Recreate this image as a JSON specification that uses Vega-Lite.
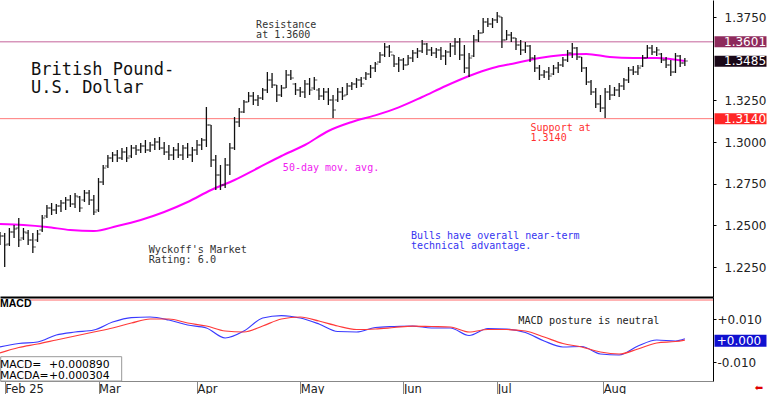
{
  "$schema": "https://vega.github.io/schema/vega-lite/v6.json",
  "padding": 0,
  "spacing": 0,
  "bounds": "flush",
  "background": "white",
  "config": {
    "view": {"stroke": null},
    "axis": {"grid": false, "labelFont": "DejaVu Sans", "labelColor": "#222", "labelFontSize": 12, "labelFlush": false, "labelOverlap": false}
  },
  "resolve": {"scale": {"x": "independent", "y": "independent"}},
  "datasets": {
    "levels": [
      {"name": "resistance", "value": 1.3601},
      {"name": "last", "value": 1.3485},
      {"name": "support", "value": 1.3140}
    ],
    "ma": [
      {"i":0,"ma":1.2508},{"i":5,"ma":1.2502},{"i":10,"ma":1.2490},{"i":15,"ma":1.2472},{"i":20,"ma":1.2466},{"i":25,"ma":1.2496},{"i":30,"ma":1.2532},{"i":35,"ma":1.2580},{"i":40,"ma":1.2640},{"i":45,"ma":1.2712},{"i":50,"ma":1.2772},{"i":55,"ma":1.2844},{"i":60,"ma":1.2916},{"i":65,"ma":1.2982},{"i":70,"ma":1.3066},{"i":75,"ma":1.3120},{"i":80,"ma":1.3160},{"i":85,"ma":1.3208},{"i":90,"ma":1.3270},{"i":95,"ma":1.3336},{"i":100,"ma":1.3396},{"i":105,"ma":1.3444},{"i":110,"ma":1.3474},{"i":115,"ma":1.3504},{"i":120,"ma":1.3522},{"i":125,"ma":1.3528},{"i":130,"ma":1.3510},{"i":135,"ma":1.3504},{"i":140,"ma":1.3504},{"i":146,"ma":1.3486}
    ],
    "macd": [
      {"i":0,"macd":-0.00295,"signal":-0.00577},
      {"i":4,"macd":-0.00131,"signal":-0.00319},
      {"i":8,"macd":-0.00061,"signal":-0.00155},
      {"i":12,"macd":0.00267,"signal":0.00033},
      {"i":16,"macd":0.00408,"signal":0.00220},
      {"i":20,"macd":0.00502,"signal":0.00408},
      {"i":24,"macd":0.00877,"signal":0.00596},
      {"i":28,"macd":0.01088,"signal":0.00830},
      {"i":32,"macd":0.01112,"signal":0.01018},
      {"i":36,"macd":0.00971,"signal":0.01018},
      {"i":40,"macd":0.00736,"signal":0.00830},
      {"i":44,"macd":0.00596,"signal":0.00689},
      {"i":48,"macd":0.00127,"signal":0.00455},
      {"i":52,"macd":0.00455,"signal":0.00408},
      {"i":56,"macd":0.01065,"signal":0.00689},
      {"i":60,"macd":0.01182,"signal":0.01018},
      {"i":64,"macd":0.01065,"signal":0.01112},
      {"i":68,"macd":0.00783,"signal":0.00924},
      {"i":72,"macd":0.00431,"signal":0.00689},
      {"i":76,"macd":0.00408,"signal":0.00525},
      {"i":80,"macd":0.00619,"signal":0.00549},
      {"i":84,"macd":0.00666,"signal":0.00619},
      {"i":88,"macd":0.00689,"signal":0.00689},
      {"i":92,"macd":0.00596,"signal":0.00666},
      {"i":96,"macd":0.00596,"signal":0.00643},
      {"i":100,"macd":0.00244,"signal":0.00408},
      {"i":104,"macd":0.00572,"signal":0.00525},
      {"i":108,"macd":0.00549,"signal":0.00525},
      {"i":112,"macd":0.00385,"signal":0.00455},
      {"i":116,"macd":-0.00014,"signal":0.00174},
      {"i":120,"macd":-0.00295,"signal":-0.00131},
      {"i":124,"macd":-0.00272,"signal":-0.00295},
      {"i":128,"macd":-0.00624,"signal":-0.00530},
      {"i":132,"macd":-0.00671,"signal":-0.00624},
      {"i":136,"macd":-0.00249,"signal":-0.00389},
      {"i":140,"macd":0.00033,"signal":-0.00108},
      {"i":144,"macd":-0.00014,"signal":-0.00038},
      {"i":146,"macd":0.00089,"signal":0.000304}
    ],
    "ohlc": [
      {"i":0,"o":1.2412,"h":1.2460,"l":1.2382,"c":1.2436},
      {"i":1,"o":1.2436,"h":1.2454,"l":1.2250,"c":1.2382},
      {"i":2,"o":1.2388,"h":1.2484,"l":1.2376,"c":1.2460},
      {"i":3,"o":1.2460,"h":1.2502,"l":1.2424,"c":1.2478},
      {"i":4,"o":1.2484,"h":1.2544,"l":1.2370,"c":1.2412},
      {"i":5,"o":1.2424,"h":1.2484,"l":1.2412,"c":1.2460},
      {"i":6,"o":1.2454,"h":1.2472,"l":1.2382,"c":1.2412},
      {"i":7,"o":1.2412,"h":1.2454,"l":1.2334,"c":1.2370},
      {"i":8,"o":1.2412,"h":1.2472,"l":1.2400,"c":1.2448},
      {"i":9,"o":1.2472,"h":1.2562,"l":1.2460,"c":1.2544},
      {"i":10,"o":1.2556,"h":1.2622,"l":1.2544,"c":1.2604},
      {"i":11,"o":1.2604,"h":1.2634,"l":1.2562,"c":1.2592},
      {"i":12,"o":1.2592,"h":1.2628,"l":1.2568,"c":1.2616},
      {"i":13,"o":1.2616,"h":1.2652,"l":1.2580,"c":1.2634},
      {"i":14,"o":1.2634,"h":1.2670,"l":1.2592,"c":1.2652},
      {"i":15,"o":1.2652,"h":1.2682,"l":1.2610,"c":1.2628},
      {"i":16,"o":1.2628,"h":1.2694,"l":1.2604,"c":1.2676},
      {"i":17,"o":1.2670,"h":1.2676,"l":1.2580,"c":1.2604},
      {"i":18,"o":1.2652,"h":1.2712,"l":1.2640,"c":1.2694},
      {"i":19,"o":1.2694,"h":1.2712,"l":1.2622,"c":1.2652},
      {"i":20,"o":1.2652,"h":1.2682,"l":1.2562,"c":1.2580},
      {"i":21,"o":1.2592,"h":1.2784,"l":1.2580,"c":1.2760},
      {"i":22,"o":1.2760,"h":1.2862,"l":1.2742,"c":1.2844},
      {"i":23,"o":1.2856,"h":1.2922,"l":1.2844,"c":1.2904},
      {"i":24,"o":1.2904,"h":1.2940,"l":1.2880,"c":1.2922},
      {"i":25,"o":1.2922,"h":1.2952,"l":1.2880,"c":1.2904},
      {"i":26,"o":1.2904,"h":1.2964,"l":1.2892,"c":1.2940},
      {"i":27,"o":1.2940,"h":1.2970,"l":1.2880,"c":1.2904},
      {"i":28,"o":1.2916,"h":1.2982,"l":1.2904,"c":1.2964},
      {"i":29,"o":1.2964,"h":1.2982,"l":1.2922,"c":1.2952},
      {"i":30,"o":1.2952,"h":1.2994,"l":1.2934,"c":1.2976},
      {"i":31,"o":1.2976,"h":1.3012,"l":1.2934,"c":1.2952},
      {"i":32,"o":1.2952,"h":1.3000,"l":1.2940,"c":1.2982},
      {"i":33,"o":1.2982,"h":1.3024,"l":1.2952,"c":1.3000},
      {"i":34,"o":1.3000,"h":1.3030,"l":1.2952,"c":1.2964},
      {"i":35,"o":1.2964,"h":1.3000,"l":1.2922,"c":1.2940},
      {"i":36,"o":1.2940,"h":1.2982,"l":1.2892,"c":1.2922},
      {"i":37,"o":1.2922,"h":1.2970,"l":1.2892,"c":1.2952},
      {"i":38,"o":1.2952,"h":1.2994,"l":1.2904,"c":1.2922},
      {"i":39,"o":1.2922,"h":1.2982,"l":1.2892,"c":1.2964},
      {"i":40,"o":1.2964,"h":1.2994,"l":1.2904,"c":1.2922},
      {"i":41,"o":1.2922,"h":1.2970,"l":1.2880,"c":1.2952},
      {"i":42,"o":1.2952,"h":1.3012,"l":1.2922,"c":1.2982},
      {"i":43,"o":1.2982,"h":1.3024,"l":1.2952,"c":1.3012},
      {"i":44,"o":1.3012,"h":1.3210,"l":1.2970,"c":1.3102},
      {"i":45,"o":1.3102,"h":1.3102,"l":1.2850,"c":1.2892},
      {"i":46,"o":1.2892,"h":1.2922,"l":1.2712,"c":1.2802},
      {"i":47,"o":1.2802,"h":1.2862,"l":1.2712,"c":1.2742},
      {"i":48,"o":1.2742,"h":1.2904,"l":1.2724,"c":1.2862},
      {"i":49,"o":1.2862,"h":1.2994,"l":1.2802,"c":1.2964},
      {"i":50,"o":1.2964,"h":1.3150,"l":1.2952,"c":1.3120},
      {"i":51,"o":1.3120,"h":1.3204,"l":1.3090,"c":1.3180},
      {"i":52,"o":1.3180,"h":1.3252,"l":1.3174,"c":1.3240},
      {"i":53,"o":1.3240,"h":1.3300,"l":1.3240,"c":1.3276},
      {"i":54,"o":1.3276,"h":1.3300,"l":1.3222,"c":1.3252},
      {"i":55,"o":1.3252,"h":1.3282,"l":1.3216,"c":1.3264},
      {"i":56,"o":1.3264,"h":1.3324,"l":1.3252,"c":1.3312},
      {"i":57,"o":1.3312,"h":1.3420,"l":1.3294,"c":1.3372},
      {"i":58,"o":1.3372,"h":1.3414,"l":1.3324,"c":1.3342},
      {"i":59,"o":1.3342,"h":1.3342,"l":1.3240,"c":1.3282},
      {"i":60,"o":1.3282,"h":1.3342,"l":1.3270,"c":1.3324},
      {"i":61,"o":1.3324,"h":1.3432,"l":1.3324,"c":1.3402},
      {"i":62,"o":1.3402,"h":1.3432,"l":1.3372,"c":1.3384},
      {"i":63,"o":1.3348,"h":1.3354,"l":1.3282,"c":1.3312},
      {"i":64,"o":1.3312,"h":1.3330,"l":1.3270,"c":1.3300},
      {"i":65,"o":1.3300,"h":1.3372,"l":1.3264,"c":1.3348},
      {"i":66,"o":1.3348,"h":1.3384,"l":1.3282,"c":1.3312},
      {"i":67,"o":1.3324,"h":1.3390,"l":1.3312,"c":1.3372},
      {"i":68,"o":1.3312,"h":1.3324,"l":1.3252,"c":1.3276},
      {"i":69,"o":1.3276,"h":1.3324,"l":1.3252,"c":1.3300},
      {"i":70,"o":1.3300,"h":1.3324,"l":1.3222,"c":1.3252},
      {"i":71,"o":1.3252,"h":1.3282,"l":1.3144,"c":1.3192},
      {"i":72,"o":1.3252,"h":1.3324,"l":1.3240,"c":1.3300},
      {"i":73,"o":1.3300,"h":1.3330,"l":1.3252,"c":1.3276},
      {"i":74,"o":1.3282,"h":1.3354,"l":1.3282,"c":1.3336},
      {"i":75,"o":1.3336,"h":1.3360,"l":1.3312,"c":1.3348},
      {"i":76,"o":1.3348,"h":1.3384,"l":1.3324,"c":1.3372},
      {"i":77,"o":1.3372,"h":1.3390,"l":1.3330,"c":1.3348},
      {"i":78,"o":1.3384,"h":1.3420,"l":1.3372,"c":1.3408},
      {"i":79,"o":1.3408,"h":1.3462,"l":1.3384,"c":1.3444},
      {"i":80,"o":1.3444,"h":1.3480,"l":1.3420,"c":1.3468},
      {"i":81,"o":1.3480,"h":1.3540,"l":1.3474,"c":1.3522},
      {"i":82,"o":1.3522,"h":1.3594,"l":1.3510,"c":1.3570},
      {"i":83,"o":1.3570,"h":1.3582,"l":1.3510,"c":1.3540},
      {"i":84,"o":1.3522,"h":1.3522,"l":1.3450,"c":1.3468},
      {"i":85,"o":1.3468,"h":1.3510,"l":1.3420,"c":1.3492},
      {"i":86,"o":1.3492,"h":1.3504,"l":1.3432,"c":1.3462},
      {"i":87,"o":1.3462,"h":1.3522,"l":1.3462,"c":1.3504},
      {"i":88,"o":1.3504,"h":1.3552,"l":1.3480,"c":1.3534},
      {"i":89,"o":1.3534,"h":1.3564,"l":1.3504,"c":1.3546},
      {"i":90,"o":1.3546,"h":1.3612,"l":1.3534,"c":1.3588},
      {"i":91,"o":1.3588,"h":1.3594,"l":1.3522,"c":1.3552},
      {"i":92,"o":1.3552,"h":1.3570,"l":1.3516,"c":1.3534},
      {"i":93,"o":1.3534,"h":1.3564,"l":1.3504,"c":1.3552},
      {"i":94,"o":1.3552,"h":1.3570,"l":1.3492,"c":1.3516},
      {"i":95,"o":1.3516,"h":1.3552,"l":1.3462,"c":1.3540},
      {"i":96,"o":1.3540,"h":1.3594,"l":1.3510,"c":1.3576},
      {"i":97,"o":1.3576,"h":1.3624,"l":1.3522,"c":1.3600},
      {"i":98,"o":1.3600,"h":1.3624,"l":1.3492,"c":1.3522},
      {"i":99,"o":1.3522,"h":1.3582,"l":1.3414,"c":1.3444},
      {"i":100,"o":1.3444,"h":1.3534,"l":1.3390,"c":1.3504},
      {"i":101,"o":1.3516,"h":1.3642,"l":1.3510,"c":1.3612},
      {"i":102,"o":1.3612,"h":1.3672,"l":1.3600,"c":1.3654},
      {"i":103,"o":1.3654,"h":1.3744,"l":1.3654,"c":1.3720},
      {"i":104,"o":1.3720,"h":1.3744,"l":1.3690,"c":1.3708},
      {"i":105,"o":1.3708,"h":1.3744,"l":1.3684,"c":1.3732},
      {"i":106,"o":1.3732,"h":1.3780,"l":1.3714,"c":1.3756},
      {"i":107,"o":1.3750,"h":1.3750,"l":1.3564,"c":1.3612},
      {"i":108,"o":1.3612,"h":1.3672,"l":1.3612,"c":1.3642},
      {"i":109,"o":1.3642,"h":1.3660,"l":1.3600,"c":1.3624},
      {"i":110,"o":1.3624,"h":1.3624,"l":1.3552,"c":1.3582},
      {"i":111,"o":1.3582,"h":1.3612,"l":1.3522,"c":1.3552},
      {"i":112,"o":1.3552,"h":1.3600,"l":1.3534,"c":1.3576},
      {"i":113,"o":1.3576,"h":1.3582,"l":1.3480,"c":1.3504},
      {"i":114,"o":1.3504,"h":1.3522,"l":1.3420,"c":1.3444},
      {"i":115,"o":1.3444,"h":1.3462,"l":1.3372,"c":1.3402},
      {"i":116,"o":1.3402,"h":1.3432,"l":1.3384,"c":1.3420},
      {"i":117,"o":1.3420,"h":1.3450,"l":1.3372,"c":1.3396},
      {"i":118,"o":1.3408,"h":1.3462,"l":1.3402,"c":1.3444},
      {"i":119,"o":1.3444,"h":1.3480,"l":1.3414,"c":1.3462},
      {"i":120,"o":1.3462,"h":1.3510,"l":1.3450,"c":1.3492},
      {"i":121,"o":1.3492,"h":1.3552,"l":1.3480,"c":1.3534},
      {"i":122,"o":1.3534,"h":1.3594,"l":1.3504,"c":1.3564},
      {"i":123,"o":1.3564,"h":1.3570,"l":1.3492,"c":1.3510},
      {"i":124,"o":1.3510,"h":1.3510,"l":1.3420,"c":1.3444},
      {"i":125,"o":1.3444,"h":1.3450,"l":1.3342,"c":1.3360},
      {"i":126,"o":1.3360,"h":1.3372,"l":1.3282,"c":1.3300},
      {"i":127,"o":1.3300,"h":1.3324,"l":1.3204,"c":1.3228},
      {"i":128,"o":1.3228,"h":1.3282,"l":1.3180,"c":1.3204},
      {"i":129,"o":1.3204,"h":1.3324,"l":1.3144,"c":1.3300},
      {"i":130,"o":1.3300,"h":1.3342,"l":1.3252,"c":1.3282},
      {"i":131,"o":1.3282,"h":1.3330,"l":1.3276,"c":1.3312},
      {"i":132,"o":1.3312,"h":1.3354,"l":1.3270,"c":1.3336},
      {"i":133,"o":1.3336,"h":1.3384,"l":1.3312,"c":1.3372},
      {"i":134,"o":1.3372,"h":1.3450,"l":1.3354,"c":1.3432},
      {"i":135,"o":1.3432,"h":1.3456,"l":1.3402,"c":1.3420},
      {"i":136,"o":1.3420,"h":1.3462,"l":1.3402,"c":1.3444},
      {"i":137,"o":1.3456,"h":1.3522,"l":1.3450,"c":1.3504},
      {"i":138,"o":1.3504,"h":1.3582,"l":1.3504,"c":1.3564},
      {"i":139,"o":1.3564,"h":1.3582,"l":1.3522,"c":1.3540},
      {"i":140,"o":1.3540,"h":1.3570,"l":1.3516,"c":1.3552},
      {"i":141,"o":1.3528,"h":1.3534,"l":1.3474,"c":1.3492},
      {"i":142,"o":1.3492,"h":1.3510,"l":1.3444,"c":1.3462},
      {"i":143,"o":1.3462,"h":1.3492,"l":1.3396,"c":1.3420},
      {"i":144,"o":1.3420,"h":1.3534,"l":1.3414,"c":1.3516},
      {"i":145,"o":1.3516,"h":1.3522,"l":1.3450,"c":1.3474},
      {"i":146,"o":1.3474,"h":1.3504,"l":1.3456,"c":1.3486}
    ]
  },
  "vconcat": [
    {
      "width": 713,
      "height": 297,
      "layer": [
        {
          "data": {"name": "levels"},
          "transform": [{"filter": "datum.name !== 'last'"}],
          "mark": {"type": "rule", "strokeWidth": 1, "clip": true},
          "encoding": {
            "y": {"field": "value", "type": "quantitative", "title": null,
                  "scale": {"domain": [1.207, 1.3852], "nice": false, "zero": false},
                  "axis": {"orient": "right", "values": [1.225, 1.25, 1.275, 1.3, 1.325, 1.375], "format": ".4f", "tickSize": 3, "labelPadding": 8, "domainColor": "#000", "tickColor": "#000", "title": null}},
            "stroke": {"field": "name", "type": "nominal", "legend": null,
                       "scale": {"domain": ["resistance", "support"], "range": ["#C4639A", "#FF7878"]}}
          }
        },
        {
          "data": {"name": "ma"},
          "mark": {"type": "line", "color": "#FF00FF", "strokeWidth": 2, "interpolate": "monotone", "clip": true},
          "encoding": {
            "x": {"field": "i", "type": "quantitative", "title": null,
                  "scale": {"domain": [0, 152], "nice": false, "zero": false},
                  "axis": {"orient": "bottom", "labels": false, "ticks": false, "title": null, "domainColor": "#000", "domainWidth": 2}},
            "y": {"field": "ma", "type": "quantitative", "title": null, "scale": {"domain": [1.207, 1.3852], "nice": false, "zero": false}}
          }
        },
        {
          "data": {"name": "ohlc"},
          "mark": {"type": "rule", "color": "#111", "strokeWidth": 1.3, "clip": true},
          "encoding": {
            "x": {"field": "i", "type": "quantitative", "title": null, "scale": {"domain": [0, 152], "nice": false, "zero": false}},
            "y": {"field": "l", "type": "quantitative", "title": null, "scale": {"domain": [1.207, 1.3852], "nice": false, "zero": false}},
            "y2": {"field": "h"}
          }
        },
        {
          "data": {"name": "ohlc"},
          "transform": [{"filter": "datum.i > 0"}],
          "mark": {"type": "tick", "orient": "horizontal", "size": 3, "thickness": 1, "xOffset": -1.5, "color": "#111", "clip": true},
          "encoding": {
            "x": {"field": "i", "type": "quantitative", "title": null, "scale": {"domain": [0, 152], "nice": false, "zero": false}},
            "y": {"field": "o", "type": "quantitative", "title": null, "scale": {"domain": [1.207, 1.3852], "nice": false, "zero": false}}
          }
        },
        {
          "data": {"name": "ohlc"},
          "mark": {"type": "tick", "orient": "horizontal", "size": 3, "thickness": 1, "xOffset": 1.5, "color": "#111", "clip": true},
          "encoding": {
            "x": {"field": "i", "type": "quantitative", "title": null, "scale": {"domain": [0, 152], "nice": false, "zero": false}},
            "y": {"field": "c", "type": "quantitative", "title": null, "scale": {"domain": [1.207, 1.3852], "nice": false, "zero": false}}
          }
        },
        {
          "data": {"name": "levels"},
          "mark": {"type": "point", "shape": "M-1,-0.21H1V0.21H-1Z", "size": 2704, "filled": true, "opacity": 1, "strokeWidth": 0},
          "encoding": {
            "x": {"datum": 157.86, "type": "quantitative", "title": null, "scale": {"domain": [0, 152], "nice": false, "zero": false}},
            "y": {"field": "value", "type": "quantitative", "title": null, "scale": {"domain": [1.207, 1.3852], "nice": false, "zero": false}},
            "fill": {"field": "name", "type": "nominal", "legend": null,
                     "scale": {"domain": ["resistance", "last", "support"], "range": ["#8E2A5C", "#1A0818", "#FF2626"]}}
          }
        },
        {
          "data": {"name": "levels"},
          "mark": {"type": "text", "align": "left", "baseline": "middle", "color": "white", "font": "DejaVu Sans", "fontSize": 12},
          "encoding": {
            "x": {"datum": 154.35, "type": "quantitative", "title": null, "scale": {"domain": [0, 152], "nice": false, "zero": false}},
            "y": {"field": "value", "type": "quantitative", "title": null, "scale": {"domain": [1.207, 1.3852], "nice": false, "zero": false}},
            "text": {"field": "value", "type": "quantitative", "format": ".4f"}
          }
        },
        {
          "data": {"values": [{}]},
          "mark": {"type": "text", "text": ["Resistance", "at 1.3600"], "align": "left", "baseline": "top", "lineHeight": 10, "font": "DejaVu Sans Mono", "fontSize": 10, "color": "#333"},
          "encoding": {
            "x": {"datum": 54.6, "type": "quantitative", "title": null, "scale": {"domain": [0, 152], "nice": false, "zero": false}},
            "y": {"datum": 1.3730, "type": "quantitative", "title": null, "scale": {"domain": [1.207, 1.3852], "nice": false, "zero": false}}
          }
        },
        {
          "data": {"values": [{}]},
          "mark": {"type": "text", "text": ["British Pound-", "U.S. Dollar"], "align": "left", "baseline": "top", "lineHeight": 17.8, "font": "DejaVu Sans Mono", "fontSize": 17, "color": "#111"},
          "encoding": {
            "x": {"datum": 6.6, "type": "quantitative", "title": null, "scale": {"domain": [0, 152], "nice": false, "zero": false}},
            "y": {"datum": 1.3478, "type": "quantitative", "title": null, "scale": {"domain": [1.207, 1.3852], "nice": false, "zero": false}}
          }
        },
        {
          "data": {"values": [{}]},
          "mark": {"type": "text", "text": "50-day mov. avg.", "align": "left", "baseline": "top", "font": "DejaVu Sans Mono", "fontSize": 10, "color": "#F020F0"},
          "encoding": {
            "x": {"datum": 60.3, "type": "quantitative", "title": null, "scale": {"domain": [0, 152], "nice": false, "zero": false}},
            "y": {"datum": 1.2876, "type": "quantitative", "title": null, "scale": {"domain": [1.207, 1.3852], "nice": false, "zero": false}}
          }
        },
        {
          "data": {"values": [{}]},
          "mark": {"type": "text", "text": ["Support at", "1.3140"], "align": "left", "baseline": "top", "lineHeight": 10, "font": "DejaVu Sans Mono", "fontSize": 10, "color": "#FF3030"},
          "encoding": {
            "x": {"datum": 113.1, "type": "quantitative", "title": null, "scale": {"domain": [0, 152], "nice": false, "zero": false}},
            "y": {"datum": 1.3112, "type": "quantitative", "title": null, "scale": {"domain": [1.207, 1.3852], "nice": false, "zero": false}}
          }
        },
        {
          "data": {"values": [{}]},
          "mark": {"type": "text", "text": ["Wyckoff's Market", "Rating: 6.0"], "align": "left", "baseline": "top", "lineHeight": 10.3, "font": "DejaVu Sans Mono", "fontSize": 10.2, "color": "#333"},
          "encoding": {
            "x": {"datum": 31.7, "type": "quantitative", "title": null, "scale": {"domain": [0, 152], "nice": false, "zero": false}},
            "y": {"datum": 1.2381, "type": "quantitative", "title": null, "scale": {"domain": [1.207, 1.3852], "nice": false, "zero": false}}
          }
        },
        {
          "data": {"values": [{}]},
          "mark": {"type": "text", "text": ["Bulls have overall near-term", "technical advantage."], "align": "left", "baseline": "top", "lineHeight": 10, "font": "DejaVu Sans Mono", "fontSize": 10, "color": "#3535F0"},
          "encoding": {
            "x": {"datum": 87.6, "type": "quantitative", "title": null, "scale": {"domain": [0, 152], "nice": false, "zero": false}},
            "y": {"datum": 1.2465, "type": "quantitative", "title": null, "scale": {"domain": [1.207, 1.3852], "nice": false, "zero": false}}
          }
        }
      ]
    },
    {
      "width": 713,
      "height": 84,
      "layer": [
        {
          "data": {"values": [{}]},
          "mark": {"type": "rule", "color": "#FF6A6A", "strokeWidth": 1},
          "encoding": {
            "x": {"datum": 6.3, "type": "quantitative", "title": null, "scale": {"domain": [0, 152], "nice": false, "zero": false}},
            "x2": {"datum": 152},
            "y": {"datum": 0.0191, "type": "quantitative", "title": null, "scale": {"domain": [-0.01892, 0.02052], "nice": false, "zero": false}}
          }
        },
        {
          "data": {"name": "macd"},
          "transform": [{"fold": ["macd", "signal"], "as": ["series", "value"]}],
          "mark": {"type": "line", "strokeWidth": 1.2, "interpolate": "monotone", "clip": true},
          "encoding": {
            "x": {"field": "i", "type": "quantitative", "title": null,
                  "scale": {"domain": [0, 152], "nice": false, "zero": false},
                  "axis": {"orient": "bottom", "title": null, "values": [1, 21, 42, 64, 86, 106, 128.6],
                           "labelExpr": "['Feb 25','Mar','Apr','May','Jun','Jul','Aug'][indexof([1,21,42,64,86,106,128.6], datum.value)]",
                           "tickSize": 13, "tickColor": "#888", "domainColor": "#888", "labelAlign": "left", "labelBaseline": "top", "labelPadding": -11, "labelDx": 2, "labelFontSize": 11.5}},
            "y": {"field": "value", "type": "quantitative", "title": null,
                  "scale": {"domain": [-0.01892, 0.02052], "nice": false, "zero": false},
                  "axis": {"orient": "right", "title": null, "values": [-0.01, 0.01],
                           "labelExpr": "(datum.value > 0 ? '+' : '-') + format(abs(datum.value), '.3f')",
                           "tickSize": 3, "labelPadding": 1, "domainColor": "#000", "tickColor": "#000"}},
            "color": {"field": "series", "type": "nominal", "legend": null,
                      "scale": {"domain": ["macd", "signal"], "range": ["#3A3AFF", "#FF3A3A"]}}
          }
        },
        {
          "data": {"values": [{}]},
          "mark": {"type": "text", "text": "MACD", "align": "left", "baseline": "top", "font": "Liberation Sans", "fontSize": 10.5, "fontWeight": "bold", "color": "#000"},
          "encoding": {
            "x": {"datum": 0, "type": "quantitative", "title": null, "scale": {"domain": [0, 152], "nice": false, "zero": false}},
            "y": {"datum": 0.0195, "type": "quantitative", "title": null, "scale": {"domain": [-0.01892, 0.02052], "nice": false, "zero": false}}
          }
        },
        {
          "data": {"values": [{}]},
          "mark": {"type": "rect", "fill": "white", "stroke": "#999", "strokeWidth": 1},
          "encoding": {
            "x": {"datum": 0.15, "type": "quantitative", "title": null, "scale": {"domain": [0, 152], "nice": false, "zero": false}},
            "x2": {"datum": 25.94},
            "y": {"datum": -0.00751, "type": "quantitative", "title": null, "scale": {"domain": [-0.01892, 0.02052], "nice": false, "zero": false}},
            "y2": {"datum": -0.01892}
          }
        },
        {
          "data": {"values": [{}]},
          "mark": {"type": "text", "text": ["MACD=", "MACDA="], "align": "left", "baseline": "top", "lineHeight": 11.6, "font": "DejaVu Sans", "fontSize": 10.8, "color": "#000"},
          "encoding": {
            "x": {"datum": 0, "type": "quantitative", "title": null, "scale": {"domain": [0, 152], "nice": false, "zero": false}},
            "y": {"datum": -0.00836, "type": "quantitative", "title": null, "scale": {"domain": [-0.01892, 0.02052], "nice": false, "zero": false}}
          }
        },
        {
          "data": {"values": [{}]},
          "mark": {"type": "text", "text": ["+0.000890", "+0.000304"], "align": "left", "baseline": "top", "lineHeight": 11.6, "font": "DejaVu Sans", "fontSize": 10.8, "color": "#000"},
          "encoding": {
            "x": {"datum": 10.45, "type": "quantitative", "title": null, "scale": {"domain": [0, 152], "nice": false, "zero": false}},
            "y": {"datum": -0.00836, "type": "quantitative", "title": null, "scale": {"domain": [-0.01892, 0.02052], "nice": false, "zero": false}}
          }
        },
        {
          "data": {"values": [{}]},
          "mark": {"type": "point", "shape": "M-1,-0.23H1V0.23H-1Z", "size": 2704, "filled": true, "opacity": 1, "strokeWidth": 0, "color": "#1010D0"},
          "encoding": {
            "x": {"datum": 157.86, "type": "quantitative", "title": null, "scale": {"domain": [0, 152], "nice": false, "zero": false}},
            "y": {"datum": 0, "type": "quantitative", "title": null, "scale": {"domain": [-0.01892, 0.02052], "nice": false, "zero": false}}
          }
        },
        {
          "data": {"values": [{}]},
          "mark": {"type": "text", "text": "+0.000", "align": "left", "baseline": "middle", "font": "DejaVu Sans", "fontSize": 12, "color": "white"},
          "encoding": {
            "x": {"datum": 152.8, "type": "quantitative", "title": null, "scale": {"domain": [0, 152], "nice": false, "zero": false}},
            "y": {"datum": 0, "type": "quantitative", "title": null, "scale": {"domain": [-0.01892, 0.02052], "nice": false, "zero": false}}
          }
        },
        {
          "data": {"values": [{}]},
          "mark": {"type": "text", "text": "MACD posture is neutral", "align": "left", "baseline": "top", "font": "DejaVu Sans Mono", "fontSize": 10.2, "color": "#222"},
          "encoding": {
            "x": {"datum": 110.5, "type": "quantitative", "title": null, "scale": {"domain": [0, 152], "nice": false, "zero": false}},
            "y": {"datum": 0.01154, "type": "quantitative", "title": null, "scale": {"domain": [-0.01892, 0.02052], "nice": false, "zero": false}}
          }
        },
        {
          "data": {"values": [{}]},
          "mark": {"type": "text", "text": "⬅", "align": "center", "baseline": "middle", "font": "DejaVu Sans", "fontSize": 10, "color": "#E00000"},
          "encoding": {
            "x": {"datum": 161.8, "type": "quantitative", "title": null, "scale": {"domain": [0, 152], "nice": false, "zero": false}},
            "y": {"datum": -0.0222, "type": "quantitative", "title": null, "scale": {"domain": [-0.01892, 0.02052], "nice": false, "zero": false}}
          }
        }
      ]
    }
  ]
}
